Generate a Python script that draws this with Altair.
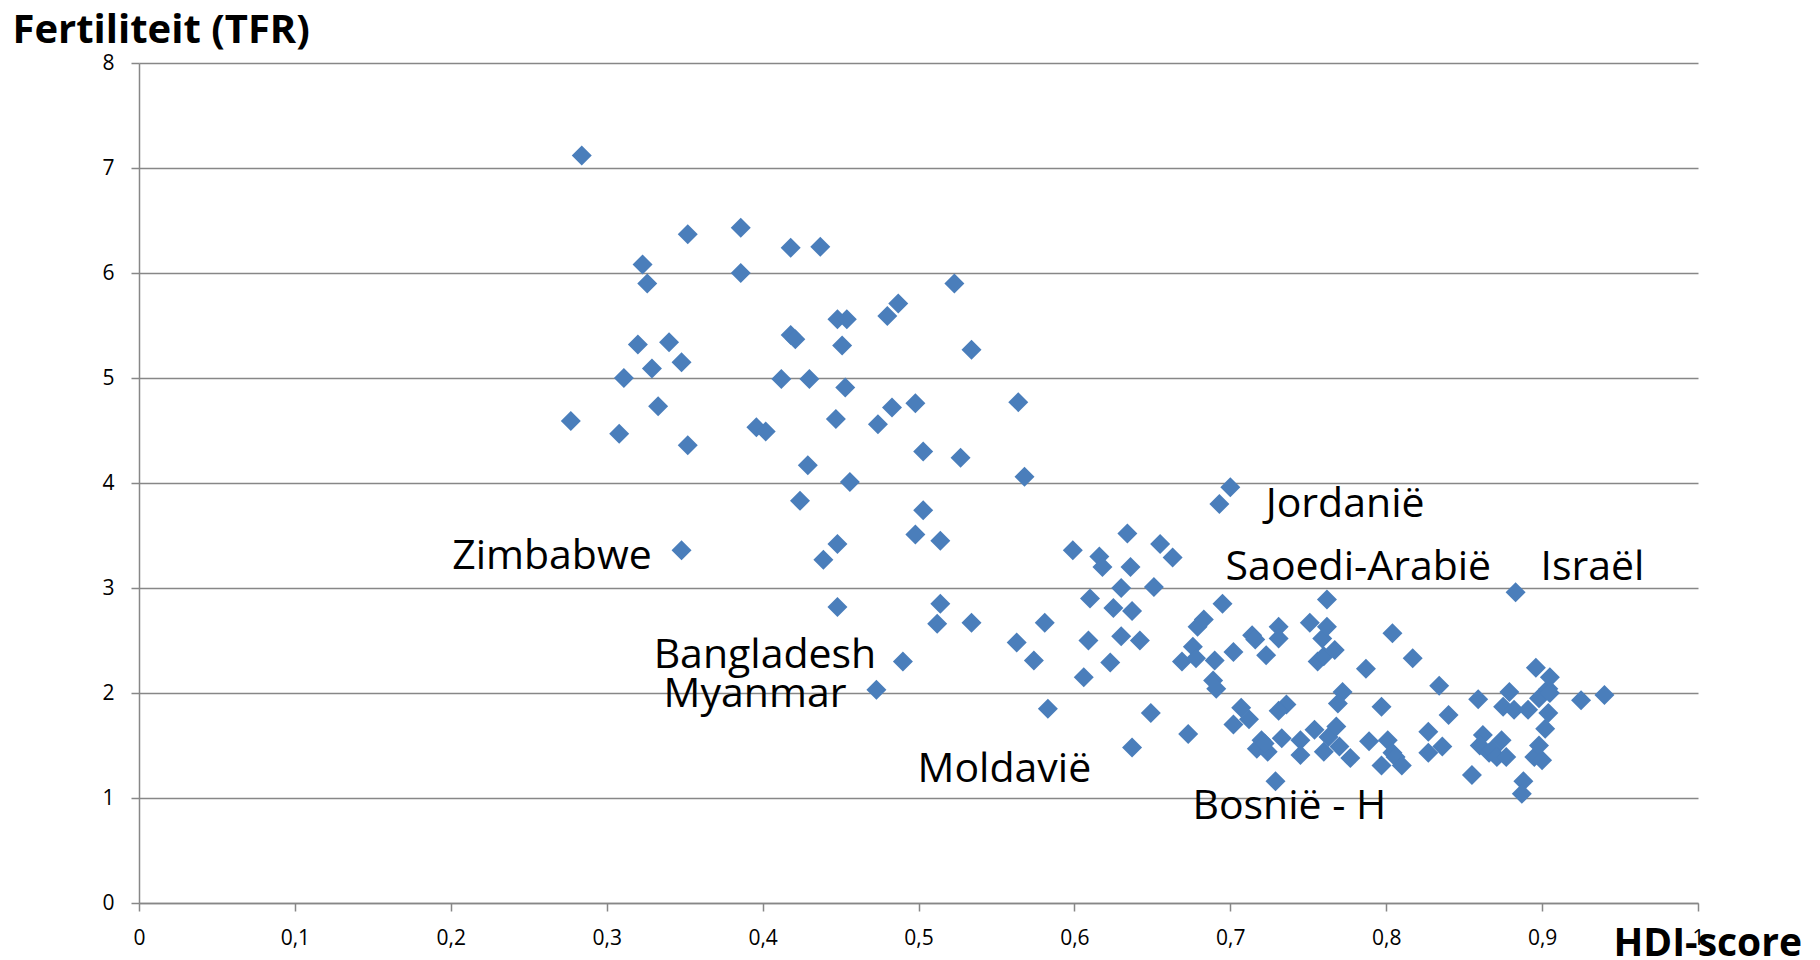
import altair as alt
import pandas as pd

# HDI-score (x) and fertility TFR (y) for each country point
hdi = [0.284, 0.277, 0.308, 0.311, 0.320, 0.323, 0.326, 0.329, 0.333, 0.340, 0.348, 0.352, 0.352, 0.348,
       0.386, 0.386, 0.396, 0.402, 0.412, 0.418, 0.418, 0.421, 0.424, 0.430, 0.429, 0.437, 0.439, 0.447,
       0.448, 0.454, 0.451, 0.448, 0.453, 0.456, 0.448,
       0.474, 0.480, 0.483, 0.487, 0.490, 0.473, 0.498, 0.498, 0.503, 0.503, 0.514, 0.512, 0.514, 0.523,
       0.527, 0.534, 0.534,
       0.564, 0.563, 0.568, 0.574, 0.581, 0.583, 0.599, 0.606, 0.610, 0.609, 0.616, 0.618, 0.623, 0.625,
       0.630, 0.630, 0.634, 0.636, 0.637, 0.637, 0.642, 0.649, 0.651, 0.655, 0.663,
       0.669, 0.673, 0.676, 0.678, 0.679, 0.683, 0.690, 0.689, 0.691, 0.693, 0.695, 0.700, 0.702, 0.702,
       0.707, 0.712, 0.714, 0.716, 0.723, 0.720, 0.717, 0.724, 0.729, 0.722,
       0.731, 0.731, 0.733, 0.736, 0.731, 0.745, 0.745, 0.751, 0.754, 0.756, 0.759, 0.760, 0.762, 0.762,
       0.767, 0.760, 0.763, 0.768, 0.770, 0.772, 0.769, 0.777, 0.787, 0.789, 0.797, 0.797, 0.801, 0.804,
       0.804, 0.806, 0.810, 0.817, 0.827, 0.827, 0.834, 0.836, 0.840, 0.855, 0.859, 0.862, 0.860, 0.866,
       0.868, 0.871, 0.874, 0.877, 0.875, 0.879, 0.882, 0.883, 0.888, 0.887, 0.891, 0.895, 0.898, 0.898,
       0.896, 0.900, 0.902, 0.904, 0.904, 0.905, 0.905, 0.925, 0.940]
tfr = [7.12, 4.59, 4.47, 5.00, 5.32, 6.08, 5.90, 5.09, 4.73, 5.34, 5.15, 6.37, 4.36, 3.36,
       6.43, 6.00, 4.53, 4.49, 4.99, 6.24, 5.41, 5.37, 3.83, 4.99, 4.17, 6.25, 3.27, 4.61,
       5.56, 5.56, 5.31, 3.42, 4.91, 4.01, 2.82,
       4.56, 5.59, 4.72, 5.71, 2.30, 2.03, 4.76, 3.51, 3.74, 4.30, 2.85, 2.66, 3.45, 5.90,
       4.24, 5.27, 2.67,
       4.77, 2.48, 4.06, 2.31, 2.67, 1.85, 3.36, 2.15, 2.90, 2.50, 3.30, 3.20, 2.29, 2.81,
       3.00, 2.54, 3.52, 3.20, 2.78, 1.48, 2.50, 1.81, 3.01, 3.42, 3.29,
       2.30, 1.61, 2.44, 2.33, 2.63, 2.70, 2.31, 2.12, 2.04, 3.80, 2.85, 3.96, 2.39, 1.70,
       1.86, 1.75, 2.55, 2.51, 2.36, 1.55, 1.47, 1.44, 1.16, 1.52,
       2.63, 2.52, 1.57, 1.89, 1.83, 1.55, 1.41, 2.67, 1.65, 2.30, 2.52, 2.35, 2.89, 2.63,
       2.41, 1.44, 1.58, 1.68, 1.49, 2.01, 1.90, 1.38, 2.23, 1.54, 1.87, 1.31, 1.55, 2.57,
       1.43, 1.39, 1.31, 2.33, 1.63, 1.43, 2.07, 1.49, 1.79, 1.22, 1.94, 1.60, 1.50, 1.43,
       1.46, 1.39, 1.55, 1.39, 1.87, 2.01, 1.84, 2.96, 1.16, 1.04, 1.84, 1.39, 1.50, 1.95,
       2.24, 1.36, 1.66, 1.81, 2.04, 2.00, 2.15, 1.93, 1.98]

# Country annotations (text anchor in data units)
label_names = ["Zimbabwe", "Bangladesh", "Myanmar", "Moldavië", "Bosnië - H",
               "Jordanië", "Saoedi-Arabië", "Israël"]
label_hdi = [0.2009, 0.3301, 0.3365, 0.4994, 0.6757, 0.7227, 0.6970, 0.8990]
label_tfr = [3.178, 2.235, 1.870, 1.156, 0.797, 3.679, 3.076, 3.076]

x_ticks = [0, 0.1, 0.2, 0.3, 0.4, 0.5, 0.6, 0.7, 0.8, 0.9, 1]
y_ticks = [0, 1, 2, 3, 4, 5, 6, 7, 8]

points = pd.DataFrame({"HDI": hdi, "TFR": tfr})
labels = pd.DataFrame({"name": label_names, "HDI": label_hdi, "TFR": label_tfr})

GRAY = "#878787"
FONT = "Open Sans"

x_enc = alt.X(
    "HDI:Q",
    scale=alt.Scale(domain=[0, 1], nice=False, zero=True),
    axis=alt.Axis(
        values=x_ticks,
        grid=False,
        format=".1~f",
        labelExpr="replace(datum.label, '.', ',')",
        labelFlush=False,
        title="HDI-score",
        titleFont=FONT, titleFontSize=39, titleFontWeight="bold", titleColor="#000",
        titleAlign="left", titleBaseline="alphabetic", titleAnchor="start",
        titleX=1474, titleY=52,
        labelPadding=16,
    ),
)
y_enc = alt.Y(
    "TFR:Q",
    scale=alt.Scale(domain=[0, 8], nice=False),
    axis=alt.Axis(
        values=y_ticks,
        grid=True,
        format="d",
        title="Fertiliteit (TFR)",
        titleAngle=0,
        titleFont=FONT, titleFontSize=40, titleFontWeight="bold", titleColor="#000",
        titleAlign="left", titleBaseline="alphabetic", titleAnchor="start",
        titleX=-127, titleY=-21,
        labelPadding=17,
    ),
)

pts = alt.Chart(points).mark_point(
    shape="diamond", filled=True, size=400, color="#4a7ebb", opacity=1
).encode(x=x_enc, y=y_enc)

txt = alt.Chart(labels).mark_text(
    align="left", baseline="alphabetic", font=FONT, fontSize=41, color="#000"
).encode(x=x_enc, y=y_enc, text="name:N")

chart = (
    alt.layer(pts, txt)
    .properties(
        width=1559, height=840,
        autosize=alt.AutoSizeParams(type="none"),
        padding={"left": 131, "top": 55, "right": 110, "bottom": 70},
        background="white",
    )
    .configure_view(stroke=None)
    .configure_axis(
        domainColor=GRAY, domainWidth=1.5,
        tickColor=GRAY, tickWidth=1.5, tickSize=8,
        gridColor=GRAY, gridWidth=1.5, gridOpacity=1,
        labelFont=FONT, labelFontSize=21, labelColor="#000",
    )
)

chart.save("out.html", embed_options={"renderer": "svg", "actions": False})
